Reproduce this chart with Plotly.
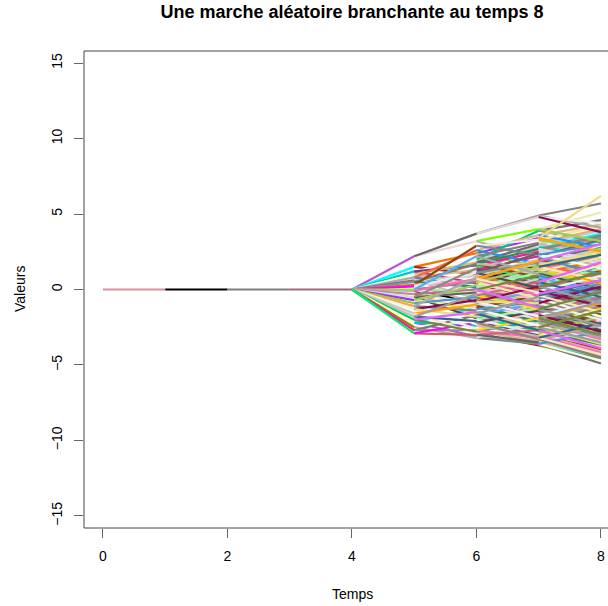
import plotly.graph_objects as go

# ---------------- data ----------------
# trunk: positions at times 0..4
trunk = [0.0, 0.0, 0.0, 0.0, 0.0]

# generation at time 5: children of the single individual at time 4
gen5 = [2.2, 1.5, 1.2, 1.0, 0.8, 0.6, 0.5, 0.3, 0.2, 0.0, -0.1, -0.3, -0.5,
        -0.7, -0.9, -1.1, -1.3, -1.6, -1.8, -2.0, -2.2, -2.5, -2.7, -2.9]

# generation at time 6: children of each gen5 individual (same order)
gen6 = [
    [3.2, 3.7], [2.4, 1.0], [2.0, 0.4, 1.6], [1.8, -0.2], [1.3, 0.1, 2.6],
    [0.9, -0.6], [1.7, 0.2], [2.9, -0.9, 0.6], [-0.4, 1.1], [0.5, -1.3, 2.2],
    [-0.8, 0.7], [-1.6, 0.0], [-0.2, -1.9, 1.4], [-1.1, 0.3], [-2.3, -0.5],
    [-1.4, 0.8], [-2.6, -0.7, -1.8], [-1.0, -2.9], [-2.1, -0.3], [-2.8, -1.5],
    [-3.1, -1.2, -2.4], [-2.0, -3.2], [-1.7, -2.7], [-3.0, -2.2],
]

# generation at time 7: children of each gen6 individual (flattened order)
gen7 = [
    [4.0, 2.1], [4.9, 4.8], [3.4, 1.5], [0.2, 1.9], [2.8, 0.9, 3.9],
    [-0.5, 1.2], [2.5, 0.6], [1.0, 3.0], [-1.1, 0.7, -0.3], [2.2, 0.4],
    [-0.9, 1.4], [3.6, 1.7], [0.0, 2.0], [-1.5, 0.3], [2.7, 0.8, 1.3],
    [-0.7, 1.1], [3.3, 2.3], [-2.0, -0.1], [1.6, -0.4], [-1.3, 0.5],
    [2.4, 0.1, 1.8], [-0.6, 1.5], [-2.4, -0.8], [3.1, 1.0], [-1.8, 0.2, -0.9],
    [1.9, -0.2], [-2.7, -0.5], [0.9, -1.2], [-1.0, 0.6], [-3.0, -1.4],
    [2.6, 0.4], [-2.2, 0.1, -1.6], [1.2, -0.6], [-3.3, -1.7], [-1.9, 0.5],
    [-2.5, -0.3], [1.7, -0.2], [-3.6, -2.0], [-1.5, 0.3], [-2.8, -0.8],
    [-2.1, 0.0], [-3.7, -2.3], [-1.1, -3.0], [-1.3, 0.7], [-3.4, -2.0],
    [-0.6, -2.6], [-3.5, -2.4], [-2.1, -0.4], [-3.1, -1.5], [-1.2, -2.9],
    [-3.6, -2.2], [-0.9, -2.5], [-3.2, -1.9], [-2.7, -3.5], [-1.4, -3.3],
]

# generation at time 8: children of each gen7 individual (flattened order)
gen8 = [
    [5.1, 3.2], [2.9, 1.0], [5.7, 4.1], [4.4, 3.8], [6.2, 2.5], [0.6, 2.3],
    [-0.9, 1.1], [3.0, 1.4], [3.7, 2.0], [-0.2, 1.8], [4.6, 3.1], [-1.6, 0.4],
    [2.2, 0.1], [3.4, 1.6], [-0.5, 1.3], [2.0, -0.3], [3.9, 2.4], [-2.3, -0.4],
    [1.7, -0.1], [0.8, -1.4], [3.3, 1.2], [-0.8, 1.5], [-2.0, 0.2], [2.6, 0.5],
    [4.3, 2.8], [0.7, 2.7], [-1.2, 1.0], [2.9, 1.1], [-2.6, -0.7], [1.4, -0.6],
    [3.5, 1.9], [-0.3, 1.6], [2.1, 0.3], [-1.8, 0.2], [0.0, 2.3], [4.2, 2.6],
    [1.4, 3.0], [-3.1, -1.0], [0.9, -1.1], [2.5, 0.4], [-1.5, 0.6], [-2.4, -0.2],
    [1.8, -0.6], [3.2, 1.5], [-1.0, 0.9], [2.7, 0.8], [-1.9, 0.3], [2.4, 0.2],
    [-3.6, -1.5], [0.1, -2.0], [4.0, 2.2], [-0.1, 1.9], [-2.9, -0.8], [1.2, -0.9],
    [-1.7, 0.1], [2.8, 0.7], [-1.3, 0.8], [-3.8, -1.9], [0.5, -1.6], [1.8, -0.2],
    [-2.2, -0.3], [-2.0, 0.1], [1.5, -0.5], [-4.1, -2.1], [-0.4, -2.5], [3.6, 1.7],
    [-0.7, 1.3], [-3.3, -1.2], [1.0, -0.9], [-2.7, -0.6], [2.1, 0.2], [-1.8, 0.4],
    [-4.5, -2.4], [-0.8, -2.8], [-3.0, -0.9], [1.6, -0.5], [-3.5, -1.4], [0.6, -1.3],
    [2.8, 0.6], [-1.1, 0.7], [-4.9, -2.7], [-1.0, -3.1], [-2.6, -0.4], [1.3, -0.7],
    [-3.9, -1.8], [0.3, -1.9], [-3.2, -1.1], [1.1, -1.0], [-4.6, -2.9], [-1.2, -3.4],
    [-2.1, 0.0], [-4.0, -2.0], [-0.2, -2.3], [1.9, -0.4], [-4.3, -2.5], [-1.1, -3.0],
    [0.4, -1.7], [-3.7, -1.6], [-4.4, -2.6], [-1.3, -3.3], [-3.0, -1.0], [0.7, -1.5],
    [-4.2, -2.2], [-0.5, -2.4], [-2.3, -0.1], [-3.8, -1.8], [-4.7, -2.8], [-1.1, -3.2],
    [-2.0, 0.2], [-3.6, -1.4], [-4.3, -2.2], [-0.8, -3.0], [-3.9, -1.7], [-4.6, -2.4],
    [-0.3, -2.5], [-4.4, -2.3],
]

x_ticks = [0, 2, 4, 6, 8]
y_ticks = [-15, -10, -5, 0, 5, 10, 15]

# ---------------- styles ----------------
trunk_colors = ["#D8909E", "#000000", "#7F7F7F", "#9A6B76"]
palette = [
    "#BA55D3", "#9E9E9E", "#FFA500", "#F0F0F0", "#4F94CD", "#EEE8AA", "#636363",
    "#FF69B4", "#E0E0E0", "#98FB98", "#8B4513", "#C7C7C7", "#1E90FF", "#CDC673",
    "#FFFFFF", "#696969", "#FF1493", "#00CD66", "#F5F5DC", "#9B30FF", "#B3B3B3",
    "#CD5C5C", "#ABABAB", "#00FFFF", "#6E8B3D", "#FFE4C4", "#8B0A50", "#828282",
    "#A2CD5A", "#4D4D4D", "#FFD700", "#5CACEE", "#EBEBEB", "#CDB79E", "#8B7D6B",
    "#FF6347", "#D3D3D3", "#CD2990", "#EE7600", "#00EE76", "#FFFACD", "#C1CDC1",
    "#9ACD32", "#BC8F8F", "#FF00FF", "#757575", "#00C5CD", "#E066FF", "#36648B",
    "#EEDC82", "#A9A9A9", "#F0FFF0", "#8B8989", "#CD6889", "#000000", "#7A8B8B",
    "#FFB6C1", "#2E8B57", "#CDCDB4", "#DEB887", "#5D478B", "#B22222", "#EED5D2",
    "#8B8B00", "#BEBEBE", "#F4A460", "#D9D9D9", "#7CFC00", "#8F8F8F", "#FAFAD2",
]

# ---------------- build segments ----------------
segments = []  # (t0, y0, t1, y1, color)
for i in range(4):
    segments.append((i, trunk[i], i + 1, trunk[i + 1], trunk_colors[i]))

ci = 0
def add_gen(t, parents, children):
    global ci
    flat = []
    for p, kids in zip(parents, children):
        for k in kids:
            segments.append((t, p, t + 1, k, palette[(ci * 23) % len(palette)]))
            ci += 1
            flat.append(k)
    return flat

g5 = add_gen(4, [trunk[4]], [gen5])
g6 = add_gen(5, g5, gen6)
g7 = add_gen(6, g6, gen7)
g8 = add_gen(7, g7, gen8)

groups = {}
for t0, y0, t1, y1, c in segments:
    xs, ys = groups.setdefault(c, ([], []))
    xs += [t0, t1, None]
    ys += [y0, y1, None]

fig = go.Figure()
for c, (xs, ys) in groups.items():
    fig.add_trace(go.Scatter(x=xs, y=ys, mode="lines",
                             line=dict(color=c, width=2.2),
                             hoverinfo="skip", showlegend=False))

font = "Liberation Sans, Arial, Helvetica, sans-serif"
fig.update_layout(
    width=608, height=606,
    margin=dict(l=84, r=0, t=51, b=78),
    plot_bgcolor="white", paper_bgcolor="white",
    font=dict(family=font, size=14, color="#000000"),
    title=dict(text="<b>Une marche aléatoire branchante au temps 8</b>",
               x=352 / 608, xanchor="center", xref="container",
               y=1 - 12 / 606, yanchor="middle", yref="container",
               font=dict(size=18, family=font, color="#000000")),
    xaxis=dict(range=[-0.305, 8.113], tickvals=x_ticks, ticks="outside",
               ticklen=9, tickcolor="#666666", tickwidth=1,
               showgrid=False, zeroline=False, showline=False,
               ticklabelstandoff=6,
               tickfont=dict(size=14, family=font, color="#000000")),
    yaxis=dict(range=[-15.8, 15.8], tickvals=y_ticks, ticks="outside",
               ticklen=9, tickcolor="#666666", tickwidth=1,
               showgrid=False, zeroline=False, showline=False,
               tickangle=-90, ticklabelstandoff=6,
               tickfont=dict(size=14, family=font, color="#000000")),
)

fig.add_shape(type="rect", xref="paper", yref="paper",
              x0=0, x1=1.1, y0=0, y1=1,
              line=dict(color="#444444", width=1), layer="above")

fig.add_annotation(text="Temps", xref="paper", yref="paper",
                   x=(352 - 84) / 524, y=-(594 - 528) / 477,
                   xanchor="center", yanchor="middle", showarrow=False,
                   font=dict(size=14, family=font, color="#000000"))
fig.add_annotation(text="Valeurs", xref="paper", yref="paper",
                   x=(20 - 84) / 524, y=(528 - 289) / 477, textangle=-90,
                   xanchor="center", yanchor="middle", showarrow=False,
                   font=dict(size=14, family=font, color="#000000"))

fig.write_html("out.html")
